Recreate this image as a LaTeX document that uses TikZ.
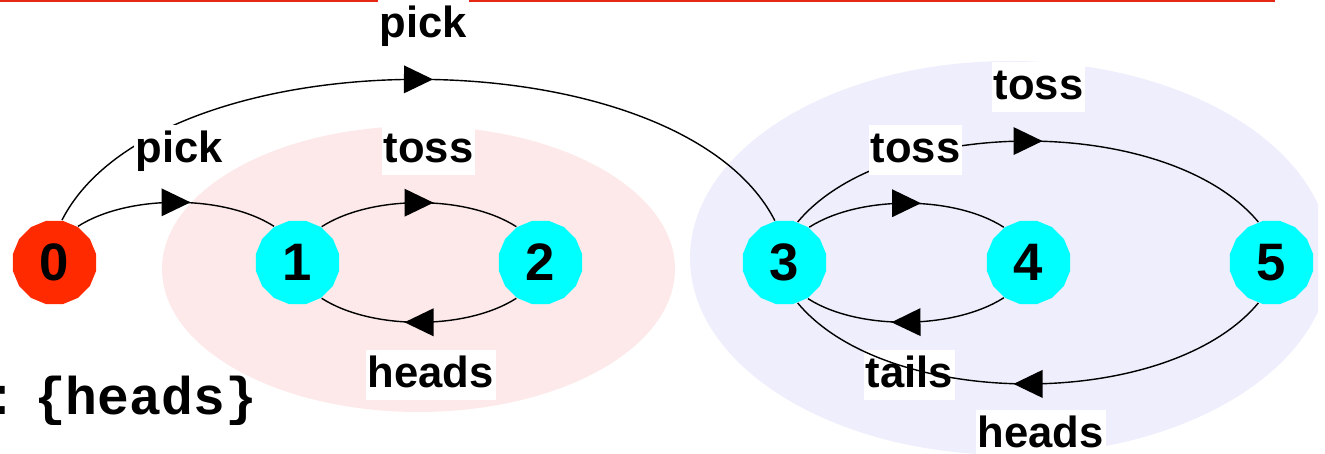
\documentclass[tikz,border=0pt]{standalone}
\usepackage{fontspec}
\setmainfont{Liberation Sans}
\newfontfamily\courierfont{Liberation Mono}
\usepackage{tikz}
\usetikzlibrary{shapes.geometric,decorations.markings,positioning}
\definecolor{statered}{RGB}{255,42,0}
\definecolor{statecyan}{RGB}{0,255,255}
\definecolor{pinkzone}{RGB}{253,233,233}
\definecolor{bluezone}{RGB}{238,238,252}
\definecolor{rulered}{RGB}{228,40,20}

\begin{document}
\begin{tikzpicture}[
  state/.style={regular polygon, regular polygon sides=16, minimum size=0.85cm, inner sep=0pt,
    fill=statecyan, font=\fontsize{15}{15}\selectfont\bfseries},
  trans/.style={line width=0.4pt, postaction={decorate},
    decoration={markings, mark=at position 0.5 with {\fill (0.145,0) -- (-0.145,0.14) -- (-0.145,-0.14) -- cycle;}}},
  lbl/.style={fill=white, anchor=base west, inner xsep=0.02cm, inner ysep=0.02cm,
    text height=0.36cm, text depth=0.1cm, font=\fontsize{12.4}{14}\selectfont\bfseries}]
  \useasboundingbox (0,0) rectangle (13.25,-4.54);
  % the two groups of states
  \fill [pinkzone] (4.185,-2.69) ellipse [x radius=2.565, y radius=1.43];
  \begin{scope}
    \clip (0,0) rectangle (13.18,-4.54);
    \fill [bluezone] (10.10,-2.58) ellipse [x radius=3.20, y radius=1.97];
  \end{scope}
  \draw [rulered, line width=0.025cm] (0,-0.01) -- (12.75,-0.01);
  % states
  \node [state, fill=statered] (s0) at (0.545,-2.625) {0};
  \node [state] (s1) at (2.975,-2.625) {1};
  \node [state] (s2) at (5.405,-2.625) {2};
  \node [state] (s3) at (7.845,-2.625) {3};
  \node [state] (s4) at (10.285,-2.625) {4};
  \node [state] (s5) at (12.715,-2.625) {5};
  \node [lbl] (tails34) at (8.63,-3.88) {tails};
  % transitions
  \draw [trans] (s0.57) .. controls +(0.5,0.32) and +(-0.5,0.32) .. (s1.123);
  \draw [trans] (s0.80) .. controls +(0.96,1.88) and +(-0.96,1.88) .. (s3.103);
  \draw [trans] (s1.56) .. controls +(0.5,0.32) and +(-0.5,0.32) .. (s2.124);
  \draw [trans] (s2.-124) .. controls +(-0.5,-0.32) and +(0.5,-0.32) .. (s1.-56);
  \draw [trans] (s3.55) .. controls +(0.5,0.32) and +(-0.5,0.32) .. (s4.125);
  \draw [trans] (s4.-125) .. controls +(-0.5,-0.32) and +(0.5,-0.32) .. (s3.-57);
  \draw [trans] (s3.72) .. controls +(0.9,1.08) and +(-0.9,1.08) .. (s5.108);
  \draw [trans] (s5.-108) .. controls +(-0.9,-1.08) and +(0.9,-1.08) .. (s3.-72);
  % labels
  \node [lbl] (pick03) at (3.77,-0.38) {pick};
  \node [lbl] (pick01) at (1.33,-1.63) {pick};
  \node [lbl] (toss12) at (3.81,-1.63) {toss};
  \node [lbl] (heads21) at (3.65,-3.88) {heads};
  \node [lbl] (toss34) at (8.68,-1.63) {toss};
  \node [lbl] (toss35) at (9.91,-1.00) {toss};
  \node [lbl] (heads53) at (9.75,-4.48) {heads};
  \node [anchor=base west, inner sep=0pt, font=\courierfont\fontsize{15.1}{16}\selectfont\bfseries]
    (goal) at (-0.155,-4.15) {:\hspace{0.32em}\{heads\}};
\end{tikzpicture}
\end{document}
